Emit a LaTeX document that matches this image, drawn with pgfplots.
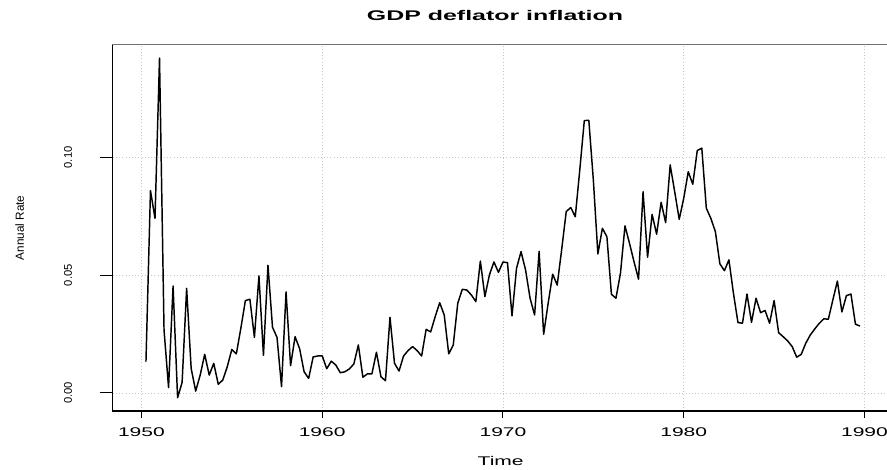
\documentclass[border=0pt]{standalone}
\usepackage{pgfplots}
\pgfplotsset{compat=1.18}
\usepackage{fontspec}
\setmainfont{Liberation Sans}
\newfontfamily\widefont[FakeStretch=1.67]{Liberation Sans}
\newfontfamily\titlefont[FakeStretch=1.78]{Liberation Sans}
\pgfplotstableread{
year value
1950.25 0.0133
1950.5 0.0859
1950.75 0.0741
1951.0 0.1421
1951.25 0.0267
1951.5 0.0023
1951.75 0.0454
1952.0 -0.0020
1952.25 0.0045
1952.5 0.0444
1952.75 0.0105
1953.0 0.0008
1953.25 0.0076
1953.5 0.0164
1953.75 0.0076
1954.0 0.0126
1954.25 0.0037
1954.5 0.0055
1954.75 0.0112
1955.0 0.0185
1955.25 0.0166
1955.5 0.0275
1955.75 0.0392
1956.0 0.0398
1956.25 0.0236
1956.5 0.0497
1956.75 0.0160
1957.0 0.0542
1957.25 0.0279
1957.5 0.0236
1957.75 0.0027
1958.0 0.0429
1958.25 0.0116
1958.5 0.0239
1958.75 0.0188
1959.0 0.0090
1959.25 0.0062
1959.5 0.0153
1959.75 0.0157
1960.0 0.0158
1960.25 0.0103
1960.5 0.0135
1960.75 0.0119
1961.0 0.0086
1961.25 0.0090
1961.5 0.0102
1961.75 0.0123
1962.0 0.0204
1962.25 0.0067
1962.5 0.0081
1962.75 0.0081
1963.0 0.0173
1963.25 0.0069
1963.5 0.0052
1963.75 0.0321
1964.0 0.0126
1964.25 0.0093
1964.5 0.0157
1964.75 0.0180
1965.0 0.0197
1965.25 0.0180
1965.5 0.0157
1965.75 0.0270
1966.0 0.0259
1966.25 0.0324
1966.5 0.0383
1966.75 0.0331
1967.0 0.0166
1967.25 0.0204
1967.5 0.0381
1967.75 0.0440
1968.0 0.0437
1968.25 0.0416
1968.5 0.0388
1968.75 0.0560
1969.0 0.0409
1969.25 0.0501
1969.5 0.0556
1969.75 0.0512
1970.0 0.0556
1970.25 0.0553
1970.5 0.0327
1970.75 0.0529
1971.0 0.0600
1971.25 0.0522
1971.5 0.0402
1971.75 0.0331
1972.0 0.0601
1972.25 0.0249
1972.5 0.0381
1972.75 0.0504
1973.0 0.0458
1973.25 0.0610
1973.5 0.0770
1973.75 0.0787
1974.0 0.0748
1974.25 0.0947
1974.5 0.1156
1974.75 0.1157
1975.0 0.0904
1975.25 0.0590
1975.5 0.0699
1975.75 0.0663
1976.0 0.0419
1976.25 0.0402
1976.5 0.0508
1976.75 0.0709
1977.0 0.0635
1977.25 0.0557
1977.5 0.0483
1977.75 0.0854
1978.0 0.0576
1978.25 0.0758
1978.5 0.0674
1978.75 0.0809
1979.0 0.0723
1979.25 0.0968
1979.5 0.0854
1979.75 0.0737
1980.0 0.0826
1980.25 0.0939
1980.5 0.0886
1980.75 0.1029
1981.0 0.1039
1981.25 0.0784
1981.5 0.0741
1981.75 0.0685
1982.0 0.0548
1982.25 0.0519
1982.5 0.0565
1982.75 0.0423
1983.0 0.0299
1983.25 0.0296
1983.5 0.0420
1983.75 0.0300
1984.0 0.0402
1984.25 0.0341
1984.5 0.0350
1984.75 0.0296
1985.0 0.0392
1985.25 0.0256
1985.5 0.0239
1985.75 0.0221
1986.0 0.0197
1986.25 0.0152
1986.5 0.0164
1986.75 0.0211
1987.0 0.0246
1987.25 0.0272
1987.5 0.0296
1987.75 0.0315
1988.0 0.0313
1988.25 0.0395
1988.5 0.0475
1988.75 0.0344
1989.0 0.0413
1989.25 0.0420
1989.5 0.0292
1989.75 0.0284
}\gdpdata
\begin{document}
\begin{tikzpicture}
\useasboundingbox (0,0) rectangle (665.25pt,352.5pt);
\begin{axis}[
  at={(84.525pt,44.25pt)}, anchor=south west,
  scale only axis, width=582pt, height=274.725pt,
  xmin=1948.41, xmax=1991.34, ymin=-0.00764, ymax=0.1478,
  clip mode=individual,
  axis line style={draw=none},
  tick align=outside, tick pos=left,
  xtick={1950,1960,1970,1980,1990},
  xticklabels={1950,1960,1970,1980,1990},
  ytick={0,0.05,0.1},
  yticklabels={\rotatebox{90}{0.00},\rotatebox{90}{0.05},\rotatebox{90}{0.10}},
  major x tick style={black, line width=0.75pt, /pgfplots/major tick length=5pt},
  major y tick style={black, line width=0.75pt, /pgfplots/major tick length=9.75pt},
  xticklabel style={font=\widefont\fontsize{9.45}{10}\selectfont, anchor=center, yshift=-11.5pt},
  yticklabel style={font=\fontsize{8.4}{9}\selectfont, anchor=center, xshift=-29.25pt},
  xmajorgrids, ymajorgrids,
  grid style={dotted, color=black!22, line width=0.6pt},
]
\addplot[black, line width=1.1pt, line join=round] table[x=year, y=value] {\gdpdata};
\draw[black!55, line width=0.75pt] (rel axis cs:0,0) rectangle (rel axis cs:1,1);
\draw[black, line width=0.9pt] (rel axis cs:0,1) -- (rel axis cs:0,0) -- (rel axis cs:1,0);
\node[font=\widefont\fontsize{9.45}{10}\selectfont] at ([yshift=-37.5pt]rel axis cs:0.5,0) {Time};
\node at ([xshift=-69.75pt]rel axis cs:0,0.5) {\rotatebox{90}{\fontsize{8.8}{9}\selectfont Annual Rate}};
\node[font=\titlefont\bfseries\fontsize{10.5}{12}\selectfont] at ([yshift=21.9pt]rel axis cs:0.4927,1) {GDP deflator inflation};
\end{axis}
\end{tikzpicture}
\end{document}
